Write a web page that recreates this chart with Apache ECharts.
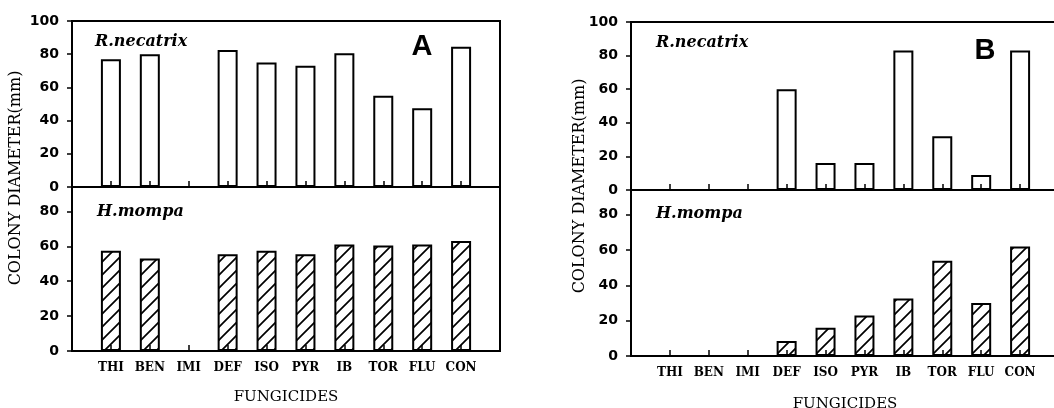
<!DOCTYPE html>
<html><head><meta charset="utf-8">
<script src="https://cdn.jsdelivr.net/npm/echarts@6/dist/echarts.min.js"></script>
<style>html,body{margin:0;padding:0;background:#fff}#c{width:1054px;height:408px}</style>
</head><body><div id="c"></div>
<script>
const categories = ['THI','BEN','IMI','DEF','ISO','PYR','IB','TOR','FLU','CON'];
const aNecatrix = [77, 80, 0, 82.5, 75, 73, 80.5, 55, 47.5, 84.5];
const aMompa    = [57.5, 53, 0, 55.5, 57.5, 55.5, 61, 60.5, 61, 63];
const bNecatrix = [0, 0, 0, 60, 16, 16, 83, 32, 9, 83];
const bMompa    = [0, 0, 0, 8.5, 16, 23, 32.5, 54, 30, 62];
const topTicks = [0, 20, 40, 60, 80, 100];
const bottomTicks = [0, 20, 40, 60, 80];

const axisCats = [''].concat(categories, ['']);
function pad(arr){ return [null].concat(arr, [null]); }

const T = 13;
const hatch = document.createElement('canvas');
hatch.width = T; hatch.height = T;
const g = hatch.getContext('2d');
g.fillStyle = '#fff'; g.fillRect(0,0,T,T);
g.strokeStyle = '#000'; g.lineWidth = 1.7;
g.beginPath();
g.moveTo(-2,T+2); g.lineTo(T+2,-2);
g.moveTo(-2,2); g.lineTo(2,-2);
g.moveTo(T-2,T+2); g.lineTo(T+2,T-2);
g.stroke();

const numFont = {fontFamily:'DejaVu Sans', fontWeight:'bold', fontSize:14, color:'#000'};
const catFont = {fontFamily:'DejaVu Serif', fontWeight:'bold', fontSize:12, color:'#000'};

const grids = [
  {left:72, top:21, width:428, height:166},
  {left:72, top:187, width:428, height:164},
  {left:631, top:22, width:428, height:168},
  {left:631, top:190, width:428, height:166}
].map(gr => Object.assign({show:true, borderColor:'#000', borderWidth:2, backgroundColor:'transparent', containLabel:false, outerBoundsMode:'none'}, gr));

function xAxis(i, bottom, gap){
  return {
    type:'category', gridIndex:i, data:axisCats, boundaryGap:false, z:5,
    axisLine:{show:true, lineStyle:{color:'#000', width:2}},
    axisTick:{show:true, inside:true, length:6, interval:0, lineStyle:{color:'#000', width:1.5}},
    axisLabel: bottom ? Object.assign({show:true, interval:0, margin:11}, catFont) : {show:false},
    splitLine:{show:false},
    name: bottom ? 'FUNGICIDES' : '', nameLocation:'middle', nameGap: gap || 40,
    nameTextStyle:{fontFamily:'DejaVu Serif', fontSize:15, color:'#000'}
  };
}
function yAxis(i, max, ticks){
  return {
    type:'value', gridIndex:i, min:0, max:max, interval:20, z:5,
    axisLine:{show:true, lineStyle:{color:'#000', width:2}},
    axisTick:{show:true, inside:false, length:5, customValues:ticks, lineStyle:{color:'#000', width:1.5}},
    axisLabel:Object.assign({show:true, margin:13, customValues:ticks}, numFont),
    splitLine:{show:false}
  };
}
function bars(i, data, hatched){
  return {
    type:'bar', xAxisIndex:i, yAxisIndex:i, data:pad(data), barWidth:20,
    itemStyle:{color: hatched ? {image:hatch, repeat:'repeat'} : '#fff', borderColor:'#000', borderWidth:2},
    emphasis:{disabled:true}, silent:true, animation:false
  };
}
function label(x, y, text, style){
  return {type:'text', x:x, y:y, style:Object.assign({text:text, fill:'#000', verticalAlign:'middle'}, style)};
}
const italic = {fontFamily:'DejaVu Serif', fontWeight:'bold', fontStyle:'italic', fontSize:16};
const big = {fontFamily:'Liberation Sans', fontWeight:'bold', fontSize:29, align:'center'};
const ytitle = {fontFamily:'DejaVu Serif', fontSize:16, align:'center'};

const chart = echarts.init(document.getElementById('c'), null, {renderer:'canvas'});
chart.setOption({
  animation:false,
  backgroundColor:'#fff',
  grid:grids,
  xAxis:[xAxis(0,false), xAxis(1,true,39), xAxis(2,false), xAxis(3,true,41)],
  yAxis:[yAxis(0,100,topTicks), yAxis(1,94,bottomTicks), yAxis(2,100,topTicks), yAxis(3,94,bottomTicks)],
  series:[bars(0,aNecatrix,false), bars(1,aMompa,true), bars(2,bNecatrix,false), bars(3,bMompa,true)],
  graphic:[
    label(95, 42, 'R.necatrix', italic),
    label(97, 212, 'H.mompa', italic),
    label(656, 43, 'R.necatrix', italic),
    label(656, 214, 'H.mompa', italic),
    label(422, 47, 'A', big),
    label(985, 51, 'B', big),
    {type:'text', x:16, y:178, rotation:Math.PI/2, style:Object.assign({text:'COLONY DIAMETER(mm)', fill:'#000', verticalAlign:'middle'}, ytitle)},
    {type:'text', x:580, y:186, rotation:Math.PI/2, style:Object.assign({text:'COLONY DIAMETER(mm)', fill:'#000', verticalAlign:'middle'}, ytitle)}
  ]
});
</script></body></html>
